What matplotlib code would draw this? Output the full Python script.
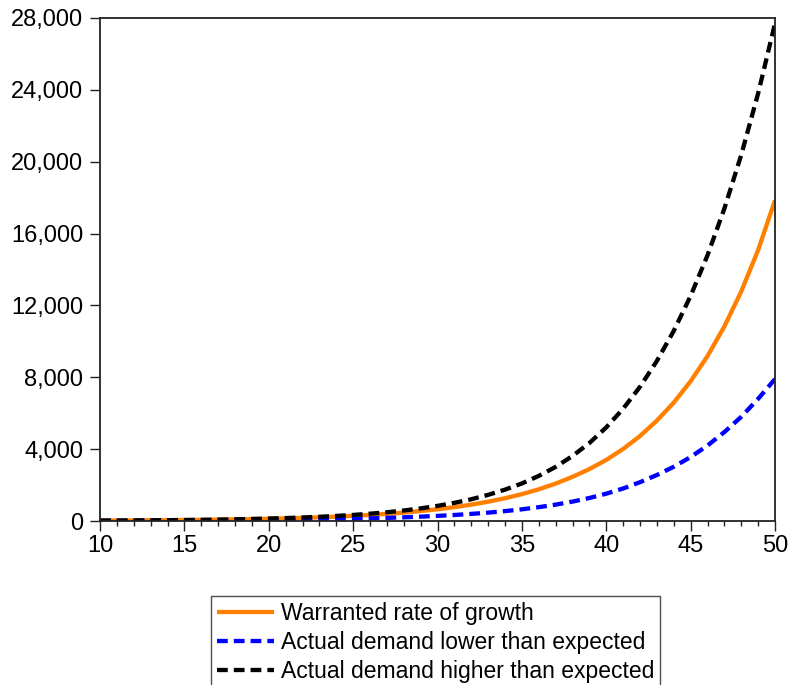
import matplotlib
matplotlib.use("Agg")
import matplotlib.pyplot as plt
from matplotlib.ticker import MultipleLocator, FuncFormatter

plt.rcParams['font.family'] = ['Liberation Sans', 'DejaVu Sans']

years = list(range(10, 51))

warranted = [24, 28, 33, 39, 46, 55, 64, 76, 90, 106,
             125, 147, 174, 205, 242, 286, 337, 398, 469, 554,
             653, 771, 910, 1074, 1267, 1495, 1764, 2082, 2457, 2890,
             3400, 4010, 4730, 5590, 6590, 7780, 9180, 10830, 12780, 15080,
             17850]

lower = [10, 12, 14, 17, 20, 24, 28, 33, 39, 46,
         55, 64, 76, 90, 106, 125, 147, 174, 205, 242,
         285, 335, 395, 465, 550, 650, 770, 910, 1080, 1280,
         1520, 1810, 2160, 2560, 3020, 3560, 4200, 4950, 5800, 6800,
         7900]

higher = [22, 26, 32, 38, 45, 55, 65, 79, 94, 113,
          136, 163, 196, 235, 282, 338, 406, 487, 585, 702,
          842, 1010, 1210, 1455, 1745, 2090, 2510, 3010, 3620, 4340,
          5210, 6250, 7470, 8910, 10580, 12530, 14790, 17390, 20380, 23800,
          27700]

labels = ["Warranted rate of growth",
          "Actual demand lower than expected",
          "Actual demand higher than expected"]

yticks = [0, 4000, 8000, 12000, 16000, 20000, 24000, 28000]
xticks = [10, 15, 20, 25, 30, 35, 40, 45, 50]

fig = plt.figure(figsize=(7.89, 6.85), dpi=100)
ax = fig.add_axes([100/789, 1 - 521/685, 675/789, 503/685])

lw = 3.1
l1, = ax.plot(years, warranted, color='#FF8000', lw=lw, solid_capstyle='butt')
l2, = ax.plot(years, lower, color='#0000FF', lw=lw, linestyle=(0, (2.5, 1.4)))
l3, = ax.plot(years, higher, color='black', lw=lw, linestyle=(0, (2.5, 1.4)))

ax.set_xlim(10, 50)
ax.set_ylim(0, 28000)
ax.set_xticks(xticks)
ax.xaxis.set_minor_locator(MultipleLocator(1))
ax.set_yticks(yticks)
ax.yaxis.set_major_formatter(FuncFormatter(lambda v, p: f"{int(v):,}"))

for s in ax.spines.values():
    s.set_linewidth(1.3)
    s.set_color('#222222')

ax.tick_params(axis='both', which='major', direction='out', length=7, width=1,
               labelsize=17, colors='#222222', labelcolor='black')
ax.tick_params(axis='x', which='major', pad=3)
ax.tick_params(axis='y', which='major', pad=5)
ax.tick_params(axis='x', which='minor', direction='out', length=3.5, width=1, colors='#222222')

leg = fig.legend([l1, l2, l3], labels, loc='upper left',
                 bbox_to_anchor=(211/789, 1 - 596/685), borderaxespad=0,
                 fontsize=16.5, frameon=True, fancybox=False, shadow=False,
                 handlelength=2.5, handletextpad=0.3, labelspacing=0.27,
                 borderpad=0.25)
leg.get_frame().set_edgecolor('#222222')
leg.get_frame().set_linewidth(1.0)

fig.savefig("out.png", dpi=100)
